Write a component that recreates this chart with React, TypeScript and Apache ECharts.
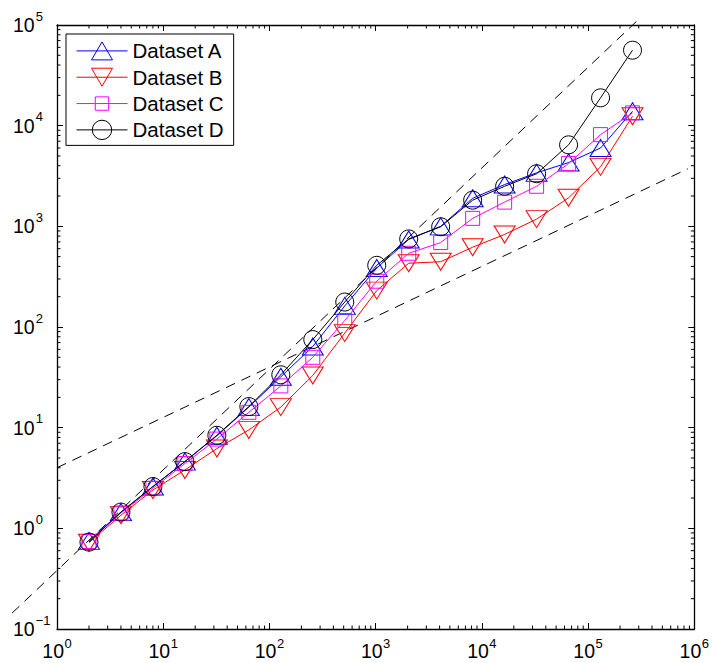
import React, { useEffect, useRef } from 'react';
import * as echarts from 'echarts';

// ---- data ----
const xValues = [2, 4, 8, 16, 32, 64, 128, 256, 512, 1024, 2048, 4096, 8192, 16384, 32768, 65536, 131072, 262144];
const seriesA = [0.75, 1.45, 2.6, 4.6, 8.3, 16, 32, 64, 162, 385, 740, 1000, 1900, 2600, 3400, 4300, 6000, 13900];
const seriesB = [0.72, 1.35, 2.4, 3.8, 6.2, 9.5, 16, 33, 87, 230, 430, 445, 620, 830, 1180, 1920, 3900, 12400];
const seriesC = [0.74, 1.42, 2.5, 4.4, 7.7, 14.2, 26, 50, 116, 285, 540, 690, 1200, 1740, 2500, 4200, 8150, 13400];
const seriesD = [0.73, 1.45, 2.6, 4.6, 8.4, 16.2, 33.5, 75, 177, 410, 750, 990, 1820, 2500, 3330, 6450, 18900, 56200];
const seriesNames = ['Dataset A', 'Dataset B', 'Dataset C', 'Dataset D'];
const seriesColors = ['#0000ff', '#ff0000', '#ff00ff', '#000000'];

// reference (dashed) lines: slope 1 and slope 1/2  [x0, y0, x1, y1]
const refSteep = [0.378, 0.144, 300000, 114000];
const refShallow = [1, 4, 870000, 3730];

const X_MIN = 1;
const X_MAX = 1e6;
const Y_MIN = 0.1;
const Y_MAX = 1e5;
const minorMultipliers = [2, 3, 4, 5, 6, 7, 8, 9];
const xDecades = [0, 1, 2, 3, 4, 5];
const yDecades = [-1, 0, 1, 2, 3, 4];

const FONT = '"Liberation Sans", Arial, Helvetica, sans-serif';
const MAJOR = 6;
const MINOR = 3.5;

const minorXTicks: number[] = [];
xDecades.forEach((e) => minorMultipliers.forEach((m) => minorXTicks.push(+(m * Math.pow(10, e)).toPrecision(3))));
const minorYTicks: number[] = [];
yDecades.forEach((e) => minorMultipliers.forEach((m) => minorYTicks.push(+(m * Math.pow(10, e)).toPrecision(3))));

const fmtPow = (v: number) => {
  const e = Math.round(Math.log10(v));
  const s = e < 0 ? '\u2212' + -e : String(e);
  return '{b|10}{s|' + s + '}';
};

const legendIcons = [
  'path://M0 0M51 20M0 10H51M25.5 1L36 19H15Z',
  'path://M0 0M51 20M0 10H51M15 1H36L25.5 19Z',
  'path://M0 0M51 20M0 10H51M18.8 3.3H32.2V16.7H18.8Z',
  'path://M0 0M51 20M0 10H51M35.2 10A9.7 9.7 0 1 1 15.8 10A9.7 9.7 0 1 1 35.2 10Z',
];

const symbols = ['triangle', 'path://M0 0H20L10 17Z', 'rect', 'circle'];
const symbolSizes: any[] = [[21, 17], [21, 17], 14, 18];
const allSeries = [seriesA, seriesB, seriesC, seriesD];

function buildOption(): any {
  const dataSeries = allSeries.map((vals, i) => ({
    name: seriesNames[i],
    type: 'line',
    data: xValues.map((x, j) => [x, vals[j]]),
    symbol: symbols[i],
    symbolSize: symbolSizes[i],
    showAllSymbol: true,
    itemStyle: { color: 'transparent', borderColor: seriesColors[i], borderWidth: 1 },
    lineStyle: { color: seriesColors[i], width: 1 },
    emphasis: { disabled: true },
    silent: true,
    z: 5 + i,
  }));

  // dashed guide lines, drawn as custom segments so they may run past the axes
  const refSeries = {
    type: 'custom',
    silent: true,
    clip: false,
    z: 4,
    data: [refSteep, refShallow],
    renderItem: (_p: any, api: any) => {
      const a = api.coord([api.value(0), api.value(1)]);
      const b = api.coord([api.value(2), api.value(3)]);
      return {
        type: 'line',
        shape: { x1: a[0], y1: a[1], x2: b[0], y2: b[1] },
        style: { stroke: '#000', lineWidth: 1, lineDash: [10, 7], fill: null },
      };
    },
    encode: { x: [0, 2], y: [1, 3] },
  };

  const tickStyle = { stroke: '#000', lineWidth: 1 };
  const minorXSeries = {
    type: 'custom',
    silent: true,
    z: 3,
    data: minorXTicks.map((v) => [v, 1]),
    renderItem: (_p: any, api: any) => {
      const v = api.value(0);
      const b = api.coord([v, Y_MIN]);
      const t = api.coord([v, Y_MAX]);
      return {
        type: 'group',
        children: [
          { type: 'line', shape: { x1: b[0], y1: b[1], x2: b[0], y2: b[1] - MINOR }, style: tickStyle },
          { type: 'line', shape: { x1: t[0], y1: t[1], x2: t[0], y2: t[1] + MINOR }, style: tickStyle },
        ],
      };
    },
  };
  const minorYSeries = {
    type: 'custom',
    silent: true,
    z: 3,
    data: minorYTicks.map((v) => [10, v]),
    renderItem: (_p: any, api: any) => {
      const v = api.value(1);
      const l = api.coord([X_MIN, v]);
      const r = api.coord([X_MAX, v]);
      return {
        type: 'group',
        children: [
          { type: 'line', shape: { x1: l[0], y1: l[1], x2: l[0] + MINOR, y2: l[1] }, style: tickStyle },
          { type: 'line', shape: { x1: r[0], y1: r[1], x2: r[0] - MINOR, y2: r[1] }, style: tickStyle },
        ],
      };
    },
  };

  const axisCommon = {
    type: 'log',
    logBase: 10,
    axisLine: { show: true, lineStyle: { color: '#000', width: 1.3 } },
    axisTick: { show: true, inside: true, length: MAJOR, lineStyle: { color: '#000', width: 1 } },
    splitLine: { show: false },
    minorTick: { show: false },
  };

  // token boxes span the whole line, so the exponent's lift comes only from paddings
  const richX = {
    b: { fontSize: 19.5, lineHeight: 19.5, fontFamily: FONT, color: '#000', padding: [4, 0, 0, 0] },
    s: { fontSize: 13, lineHeight: 12.5, fontFamily: FONT, color: '#000', padding: [0, 0, 11, 0.5] },
  };
  const richY = {
    b: { fontSize: 19.5, lineHeight: 19.5, fontFamily: FONT, color: '#000', padding: [6, 0, 6, 0] },
    s: { fontSize: 13, lineHeight: 12.5, fontFamily: FONT, color: '#000', padding: [0.5, 0, 18.5, 1] },
  };

  return {
    animation: false,
    backgroundColor: '#fff',
    grid: { left: 57, right: 15, top: 25, bottom: 34, containLabel: false },
    xAxis: [
      {
        ...axisCommon,
        position: 'bottom',
        min: X_MIN,
        max: X_MAX,
        axisLabel: { show: true, margin: 10, fontSize: 19.5, fontFamily: FONT, color: '#000', formatter: fmtPow, rich: richX },
      },
      {
        ...axisCommon,
        position: 'top',
        min: X_MIN,
        max: X_MAX,
        axisLabel: { show: false },
      },
    ],
    yAxis: [
      {
        ...axisCommon,
        position: 'left',
        min: Y_MIN,
        max: Y_MAX,
        axisLabel: { show: true, margin: 44, align: 'left', fontSize: 19.5, fontFamily: FONT, color: '#000', formatter: fmtPow, rich: richY },
      },
      {
        ...axisCommon,
        position: 'right',
        min: Y_MIN,
        max: Y_MAX,
        axisLabel: { show: false },
      },
    ],
    legend: {
      orient: 'vertical',
      left: 66,
      top: 34,
      padding: [6.4, 10, 5, 10],
      itemWidth: 51,
      itemHeight: 20,
      itemGap: 5.33,
      borderColor: '#000',
      borderWidth: 1,
      borderRadius: 0,
      backgroundColor: '#fff',
      selectedMode: false,
      textStyle: { fontSize: 20.5, fontFamily: FONT, color: '#000', lineHeight: 20 },
      data: seriesNames.map((n, i) => ({
        name: n,
        icon: legendIcons[i],
        itemStyle: { color: 'transparent', borderColor: seriesColors[i], borderWidth: 1 },
      })),
      z: 20,
    },
    series: [minorXSeries, minorYSeries, refSeries, ...dataSeries],
  };
}

export default function App() {
  const ref = useRef<HTMLDivElement>(null);
  useEffect(() => {
    const chart = echarts.init(ref.current as HTMLDivElement, undefined, { renderer: 'svg' });
    chart.setOption(buildOption());
    return () => chart.dispose();
  }, []);
  return <div ref={ref} style={{ position: 'absolute', left: 0, top: 0, width: 712, height: 663 }} />;
}
